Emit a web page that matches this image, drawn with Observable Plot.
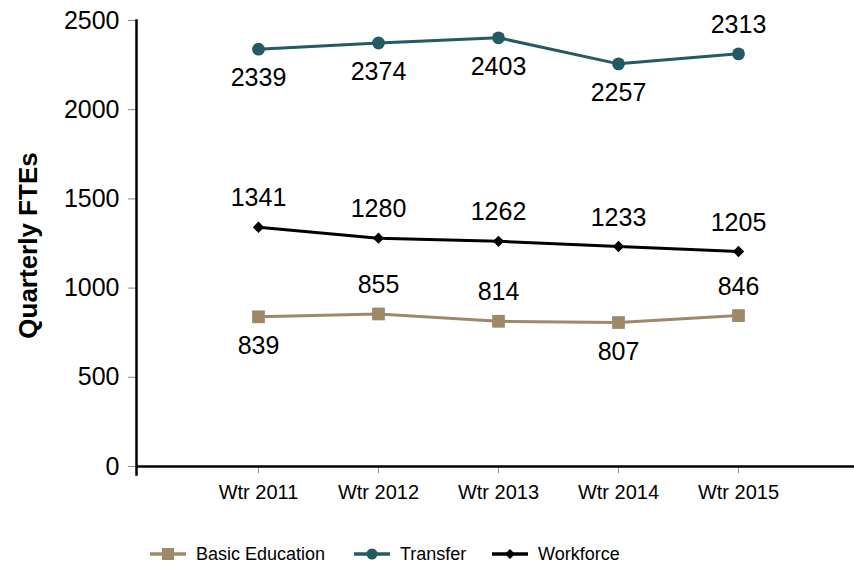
<!DOCTYPE html>
<html><head><meta charset="utf-8">
<script src="https://cdn.jsdelivr.net/npm/d3@7"></script>
<script src="https://cdn.jsdelivr.net/npm/@observablehq/plot@0.6"></script>
<style>
body{margin:0;background:#fff;font-family:"Liberation Sans",Arial,sans-serif;}
#wrap{position:relative;width:854px;height:570px;overflow:hidden;}
#chart svg{display:block;}
.lg{position:absolute;top:541px;height:26px;display:flex;align-items:center;font-size:18px;color:#000;}
.lg svg{margin-right:10px;}
</style></head><body>
<div id="wrap"><div id="chart"></div><div id="legend"></div></div>
<script>
const years = ["Wtr 2011", "Wtr 2012", "Wtr 2013", "Wtr 2014", "Wtr 2015"];
const basicEducation = [839, 855, 814, 807, 846];
const transfer = [2339, 2374, 2403, 2257, 2313];
const workforce = [1341, 1280, 1262, 1233, 1205];
const seriesNames = ["Basic Education", "Transfer", "Workforce"];
const yTicks = [0, 500, 1000, 1500, 2000, 2500];
// label placement (above the marker = true)
const basicLabelAbove = [false, true, true, false, true];
const transferLabelAbove = [false, false, false, false, true];
const workforceLabelAbove = [true, true, true, true, true];

const colors = ["#9d8968", "#235a63", "#000000"];
const symbols = ["square", "circle", "diamond2"];
const radii = [7.2, 6.4, 5.1];

const seriesValues = [basicEducation, transfer, workforce];
const seriesAbove = [basicLabelAbove, transferLabelAbove, workforceLabelAbove];
const rows = [];
seriesNames.forEach((s, i) => years.forEach((y, j) => rows.push({series: s, year: y, value: seriesValues[i][j], above: seriesAbove[i][j]})));

const font = "Liberation Sans, Arial, sans-serif";
const dotMarks = seriesNames.map((s, i) => Plot.dot(rows.filter(d => d.series === s), {
  x: "year", y: "value", symbol: () => symbols[i], fill: colors[i], stroke: "none", r: radii[i]
}));

const plot = Plot.plot({
  width: 854, height: 515,
  marginLeft: 136, marginRight: 0, marginTop: 20, marginBottom: 49,
  x: {type: "point", domain: years, range: [137, 859], padding: 1},
  y: {domain: [0, 2500]},
  color: {domain: seriesNames, range: colors},
  symbol: {domain: symbols, range: symbols},
  style: {fontFamily: font, color: "#000", background: "#fff", overflow: "visible"},
  marks: [
    Plot.axisY({ticks: yTicks, tickSize: 8, tickPadding: 9, fontSize: 25, stroke: "#888", label: null, tickFormat: d => String(d)}),
    Plot.axisX({tickSize: 7, tickPadding: 11, fontSize: 20, stroke: "#888", label: null}),
    Plot.ruleY([0], {stroke: "#000", strokeWidth: 2.5}),
    Plot.frame({anchor: "left", stroke: "#000", strokeWidth: 2.5, insetBottom: -8}),
    Plot.text(["Quarterly FTEs"], {frameAnchor: "left", rotate: -90, dx: -108, dy: 2, fontWeight: "bold", fontSize: 26, textAnchor: "middle", fill: "#000"}),
    Plot.line(rows, {x: "year", y: "value", z: "series", stroke: "series", strokeWidth: 3}),
    ...dotMarks,
    Plot.text(rows.filter(d => d.above), {x: "year", y: "value", text: d => String(d.value), dy: -29, fontSize: 25, fill: "#000"}),
    Plot.text(rows.filter(d => !d.above), {x: "year", y: "value", text: d => String(d.value), dy: 29, fontSize: 25, fill: "#000"})
  ]
});
document.getElementById("chart").append(plot);

// legend
const legendLeft = [150, 354, 492];
const lg = document.getElementById("legend");
seriesNames.forEach((s, i) => {
  const item = document.createElement("div");
  item.className = "lg";
  item.style.left = legendLeft[i] + "px";
  let marker;
  if (symbols[i] === "square") marker = `<rect x="12" y="7" width="12" height="12" fill="${colors[i]}"/>`;
  else if (symbols[i] === "circle") marker = `<circle cx="18" cy="13" r="5.5" fill="${colors[i]}"/>`;
  else marker = `<path d="M18 8 L23 13 L18 18 L13 13 Z" fill="${colors[i]}"/>`;
  item.innerHTML = `<svg width="36" height="26"><line x1="0" x2="36" y1="13" y2="13" stroke="${colors[i]}" stroke-width="3.5"/>${marker}</svg><span>${s}</span>`;
  lg.append(item);
});
</script>
</body></html>
